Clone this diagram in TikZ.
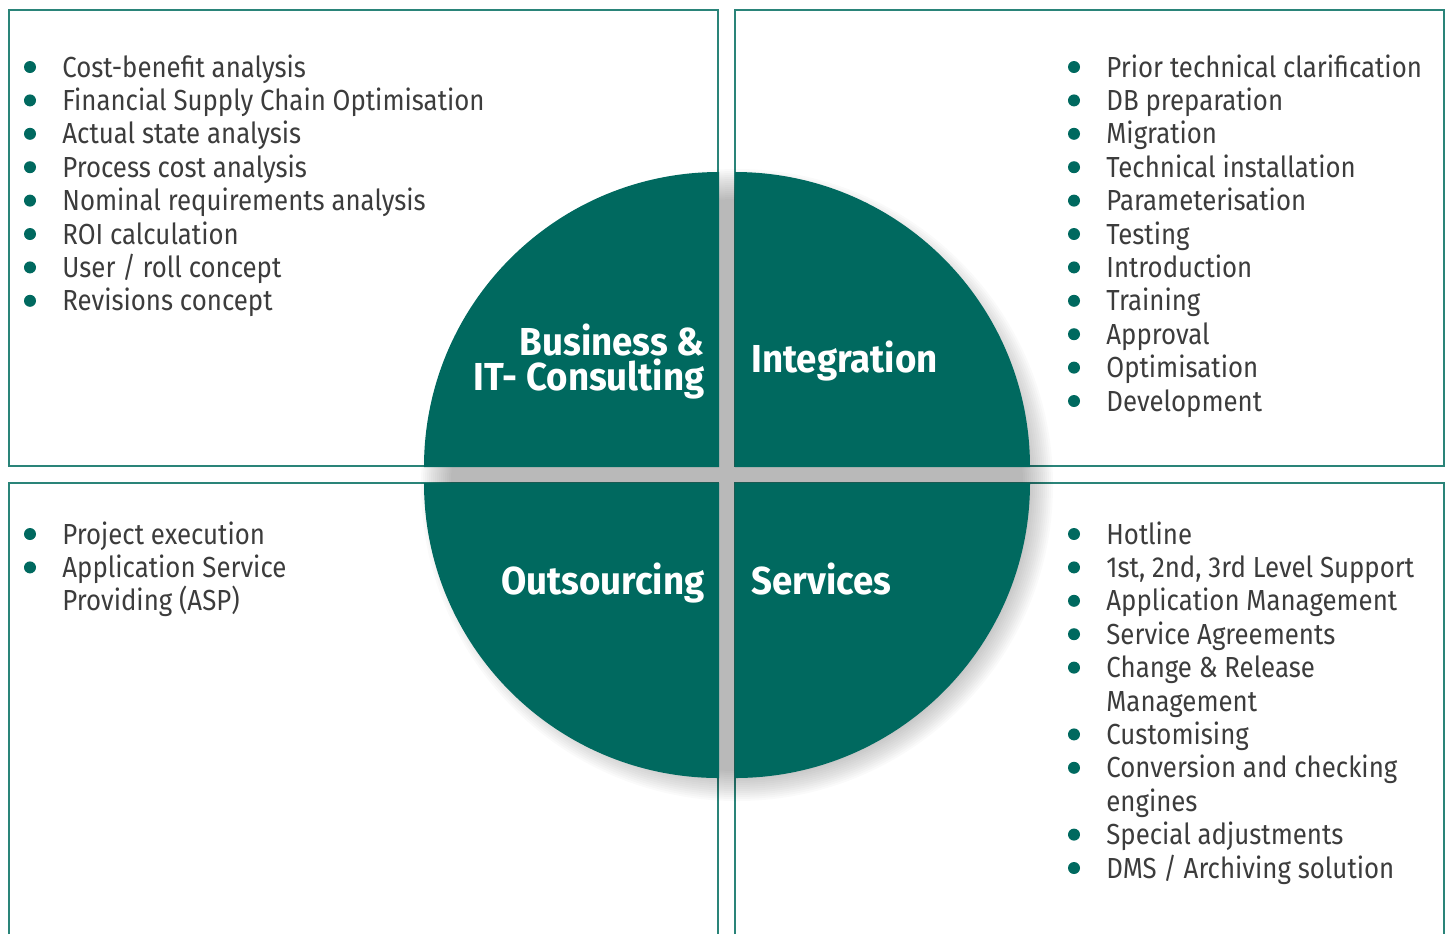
\documentclass[tikz,border=0pt]{standalone}
\usepackage{fontspec}
\setmainfont{Fira Sans}[FakeStretch=0.89]
\newfontfamily\headfont{Fira Sans}[FakeStretch=0.94]
\definecolor{petrol}{HTML}{00695F}
\definecolor{boxline}{HTML}{2A8479}
\definecolor{txtgray}{HTML}{3C3C3C}
\tikzset{
  panel/.style={draw=boxline, line width=0.8pt},
  quarter/.style={fill=petrol},
  heading/.style={font=\headfont\fontsize{19.5}{17.5}\selectfont\bfseries, text=white, inner sep=0pt},
  item/.style={font=\fontsize{14.5}{16.7}\selectfont, text=txtgray, anchor=base west, inner sep=0pt},
}
\begin{document}
\begin{tikzpicture}[x=0.5pt, y=-0.5pt]
    	\useasboundingbox (0,0) rectangle (1451,934);
    	% boxes
    	\draw[panel] (9,10) rectangle (718,466);
    	\draw[panel] (735,10) rectangle (1444,466);
    	\draw[panel] (9,934) -- (9,483) -- (718,483) -- (718,934);
    	\draw[panel] (735,934) -- (735,483) -- (1444,483) -- (1444,934);
    	% shadow
    	\foreach \r in {286,288,...,316}
    		\fill[black, opacity=0.018] (737,485) circle (\r);
    	% quarters
    	\fill[quarter] (719,467) -- (424,467) arc[start angle=180, end angle=270, radius=295] -- cycle;
    	\fill[quarter] (735,467) -- (735,172) arc[start angle=270, end angle=360, radius=295] -- cycle;
    	\fill[quarter] (735,483) -- (1030,483) arc[start angle=0, end angle=90, radius=295] -- cycle;
    	\fill[quarter] (719,483) -- (719,778) arc[start angle=90, end angle=180, radius=295] -- cycle;
    	% headings
    	\node[heading, anchor=base east, align=right] (consult) at (705,390) {Business \&\\IT- Consulting};
    	\node[heading, anchor=base west] (integr) at (751,372) {Integration};
    	\node[heading, anchor=base east] (outs) at (705,594) {Outsourcing};
    	\node[heading, anchor=base west] (serv) at (751,594) {Services};
    	% top left
    	\foreach \t [count=\i from 0] in {Cost-benefit analysis, Financial Supply Chain Optimisation, Actual state analysis, Process cost analysis, Nominal requirements analysis, ROI calculation, User / roll concept, Revisions concept}{
    		\fill[petrol] (30,{67+33.4*\i}) circle (6);
    		\node[item] (tl\i) at (62,{77+33.4*\i}) {\t};
    	}
    	% top right
    	\foreach \t [count=\i from 0] in {Prior technical clarification, DB preparation, Migration, Technical installation, Parameterisation, Testing, Introduction, Training, Approval, Optimisation, Development}{
    		\fill[petrol] (1074,{67+33.4*\i}) circle (6);
    		\node[item] (tr\i) at (1106,{77+33.4*\i}) {\t};
    	}
    	% bottom left
    	\foreach \n/\t in {0/Project execution, 1/Application Service, 2/Providing (ASP)}
    		\node[item] (bl\n) at (62,{544+33.4*\n}) {\t};
    	\foreach \n in {0,1}
    		\fill[petrol] (30,{534+33.4*\n}) circle (6);
    	% bottom right
    	\foreach \n/\t in {0/Hotline, 1/{1st, 2nd, 3rd Level Support}, 2/Application Management, 3/Service Agreements, 4/Change \& Release, 5/Management, 6/Customising, 7/Conversion and checking, 8/engines, 9/Special adjustments, 10/{DMS / Archiving solution}}
    		\node[item] (br\n) at (1106,{544+33.4*\n}) {\t};
    	\foreach \n in {0,1,2,3,4,6,7,9,10}
    		\fill[petrol] (1074,{534+33.4*\n}) circle (6);
\end{tikzpicture}
\end{document}
